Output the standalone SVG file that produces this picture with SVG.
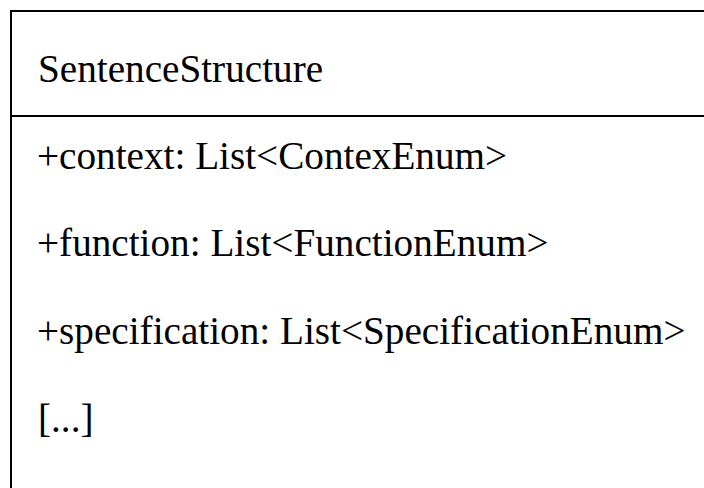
<svg xmlns="http://www.w3.org/2000/svg" width="704" height="488" viewBox="0 0 704 488">
<style>
.t{font-family:"Liberation Serif","Times New Roman",serif;font-size:39.2px;fill:#000}
.ln{stroke:#000;stroke-width:2;fill:none}
</style>
<rect width="704" height="488" fill="#fff"/>
<g id="SentenceStructure">
<path class="ln" d="M11,488 V11 H704"/>
<line class="ln" x1="11" y1="116" x2="704" y2="116"/>
<text class="t" x="38" y="82">SentenceStructure</text>
<text class="t" x="37" y="169">+context: List&lt;ContexEnum&gt;</text>
<text class="t" x="37" y="256">+function: List&lt;FunctionEnum&gt;</text>
<text class="t" x="37" y="344">+specification: List&lt;SpecificationEnum&gt;</text>
<text class="t" x="38" y="432">[...]</text>
</g>
</svg>
